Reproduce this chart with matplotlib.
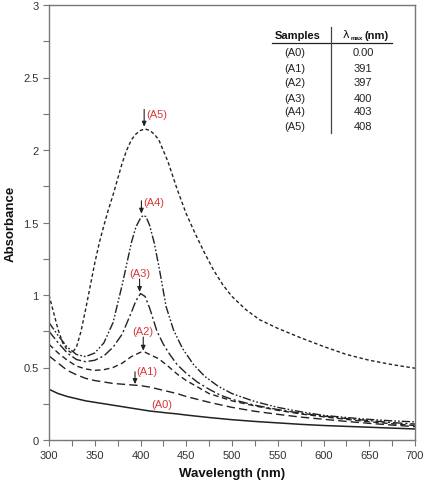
import matplotlib
matplotlib.use("Agg")
import matplotlib.pyplot as plt
from matplotlib.ticker import MultipleLocator

plt.rcParams['font.family'] = ['Liberation Sans', 'DejaVu Sans']

# ---- data ----
wl_A0 = [300, 310, 320, 330, 340, 350, 360, 370, 380, 390, 400, 410, 420, 430, 440, 450,
         475, 500, 525, 550, 575, 600, 625, 650, 675, 700]
abs_A0 = [0.35, 0.32, 0.30, 0.285, 0.27, 0.26, 0.25, 0.24, 0.23, 0.22, 0.21, 0.20, 0.193, 0.186,
          0.18, 0.172, 0.155, 0.14, 0.128, 0.118, 0.108, 0.10, 0.094, 0.088, 0.082, 0.076]

wl_A1 = [300, 310, 320, 330, 340, 350, 360, 370, 380, 390, 400, 410, 420, 430, 440, 450,
         475, 500, 525, 550, 575, 600, 625, 650, 675, 700]
abs_A1 = [0.58, 0.53, 0.48, 0.45, 0.425, 0.41, 0.40, 0.39, 0.385, 0.38, 0.375, 0.365, 0.35, 0.335,
          0.32, 0.30, 0.26, 0.225, 0.198, 0.177, 0.158, 0.143, 0.128, 0.115, 0.103, 0.092]

wl_A2 = [300, 310, 320, 330, 340, 350, 360, 370, 380, 390, 400, 405, 410, 420, 430, 440, 450,
         475, 500, 525, 550, 575, 600, 625, 650, 675, 700]
abs_A2 = [0.66, 0.60, 0.55, 0.51, 0.49, 0.48, 0.485, 0.50, 0.53, 0.575, 0.605, 0.605, 0.59, 0.56,
          0.51, 0.455, 0.41, 0.32, 0.27, 0.235, 0.205, 0.18, 0.16, 0.142, 0.126, 0.112, 0.10]

wl_A3 = [300, 310, 320, 330, 340, 350, 360, 370, 380, 390, 395, 400, 405, 410, 418, 425, 432,
         440, 450, 462, 475, 487, 500, 525, 550, 575, 600, 625, 650, 675, 700]
abs_A3 = [0.75, 0.67, 0.60, 0.555, 0.54, 0.55, 0.58, 0.64, 0.73, 0.88, 0.96, 1.01, 0.99, 0.91,
          0.75, 0.66, 0.59, 0.52, 0.46, 0.40, 0.35, 0.31, 0.28, 0.24, 0.21, 0.185, 0.165, 0.148,
          0.134, 0.12, 0.11]

wl_A4 = [300, 310, 320, 330, 340, 350, 360, 370, 380, 390, 395, 400, 403, 406, 410, 415, 420,
         428, 436, 446, 458, 470, 485, 500, 525, 550, 575, 600, 625, 650, 675, 700]
abs_A4 = [0.81, 0.72, 0.64, 0.59, 0.575, 0.60, 0.67, 0.81, 1.07, 1.36, 1.47, 1.53, 1.55, 1.54,
          1.48, 1.36, 1.20, 0.92, 0.76, 0.63, 0.52, 0.44, 0.37, 0.32, 0.265, 0.225, 0.195, 0.17,
          0.155, 0.142, 0.132, 0.125]

wl_A5 = [300, 305, 310, 315, 320, 325, 330, 335, 340, 345, 350, 355, 360, 365, 370, 375, 380, 385,
         390, 395, 400, 405, 410, 415, 420, 430, 440, 450, 460, 470, 480, 490, 500, 515, 530, 550,
         575, 600, 625, 650, 675, 700]
abs_A5 = [1.0, 0.88, 0.76, 0.67, 0.62, 0.60, 0.64, 0.75, 0.90, 1.06, 1.22, 1.36, 1.48, 1.59, 1.69,
          1.80, 1.91, 2.00, 2.07, 2.11, 2.135, 2.145, 2.135, 2.11, 2.07, 1.92, 1.73, 1.56, 1.42,
          1.29, 1.17, 1.07, 0.99, 0.90, 0.83, 0.77, 0.705, 0.645, 0.59, 0.55, 0.52, 0.495]

labels = ["(A0)", "(A1)", "(A2)", "(A3)", "(A4)", "(A5)"]
lambda_max = ["0.00", "391", "397", "400", "403", "408"]

# ---- figure ----
W, H = 427, 489
fig = plt.figure(figsize=(W / 100, H / 100), dpi=100)
ax = fig.add_axes([49 / W, 1 - 441 / H, (415 - 49) / W, (441 - 6) / H])

lc = '#222222'
ax.plot(wl_A0, abs_A0, color=lc, lw=1.1, ls='-')
ax.plot(wl_A1, abs_A1, color=lc, lw=1.0, dashes=(6, 3))
ax.plot(wl_A2, abs_A2, color=lc, lw=1.0, dashes=(4, 2.5))
ax.plot(wl_A3, abs_A3, color=lc, lw=1.0, dashes=(7, 2, 1.5, 2))
ax.plot(wl_A4, abs_A4, color=lc, lw=1.0, dashes=(6, 1.5, 1.2, 1.5, 1.2, 1.5))
ax.plot(wl_A5, abs_A5, color=lc, lw=1.0, dashes=(2.5, 1.8))

ax.set_xlim(300, 700)
ax.set_ylim(0, 3)
ax.xaxis.set_major_locator(MultipleLocator(50))
ax.xaxis.set_minor_locator(MultipleLocator(25))
ax.yaxis.set_major_locator(MultipleLocator(0.5))
ax.yaxis.set_minor_locator(MultipleLocator(0.25))
ax.tick_params(which='both', direction='out', length=4, width=0.8, color='#777777',
               labelsize=8, labelcolor='#333333')
ax.yaxis.set_major_formatter(plt.FuncFormatter(lambda v, p: f"{v:g}"))
for s in ax.spines.values():
    s.set_color('#777777')
    s.set_linewidth(1.0)

ax.set_xlabel("Wavelength (nm)", fontsize=9.5, fontweight='bold', color='#111111', labelpad=5)
ax.set_ylabel("Absorbance", fontsize=9.5, fontweight='bold', color='#111111', labelpad=5)

# ---- annotations ----
red = '#d9383a'
ann = [
    # label, arrow x, arrow top, arrow head, text x, text y, ha
    ("(A5)", 404, 2.28, 2.16, 406, 2.25, 'left'),
    ("(A4)", 401, 1.65, 1.56, 403, 1.64, 'left'),
    ("(A3)", 399, 1.11, 1.02, 399, 1.155, 'center'),
    ("(A2)", 403, 0.71, 0.615, 402, 0.75, 'center'),
    ("(A1)", 394, 0.47, 0.385, 395, 0.475, 'left'),
]
for lab, xa, yt, yh, xt, yt2, ha in ann:
    ax.annotate("", xy=(xa, yh), xytext=(xa, yt),
                arrowprops=dict(arrowstyle='-|>,head_length=0.3,head_width=0.13',
                                color='#222222', lw=0.8, shrinkA=0, shrinkB=0))
    ax.text(xt, yt2, lab, color=red, fontsize=8, ha=ha, va='center')
ax.text(423, 0.25, "(A0)", color=red, fontsize=8, ha='center', va='center')

# ---- table ----
def fx(px):
    return px / W

def fy(py):
    return 1 - py / H

tc = '#111111'
fig.text(fx(298), fy(36), "Samples", fontsize=8, fontweight='bold', ha='center', va='center', color=tc)
fig.text(fx(346), fy(35), "λ", fontsize=8, ha='center', va='center', color=tc,
         family=['DejaVu Sans'])
fig.text(fx(351), fy(38.5), "max", fontsize=4.5, fontweight='bold', ha='left', va='center', color=tc)
fig.text(fx(365), fy(36), "(nm)", fontsize=8, fontweight='bold', ha='left', va='center', color=tc)
fig.add_artist(plt.Line2D([fx(272), fx(392)], [fy(43.5), fy(43.5)], color='#222222', lw=0.9,
                          transform=fig.transFigure))
fig.add_artist(plt.Line2D([fx(331), fx(331)], [fy(28), fy(134)], color='#444444', lw=0.9,
                          transform=fig.transFigure))
row_y = [53.5, 69, 83.5, 99, 112, 127]
for lab, val, py in zip(labels, lambda_max, row_y):
    fig.text(fx(295), fy(py), lab, fontsize=8, ha='center', va='center', color='#222222')
    fig.text(fx(363), fy(py), val, fontsize=8, ha='center', va='center', color='#222222')

fig.savefig("out.png", dpi=100)
